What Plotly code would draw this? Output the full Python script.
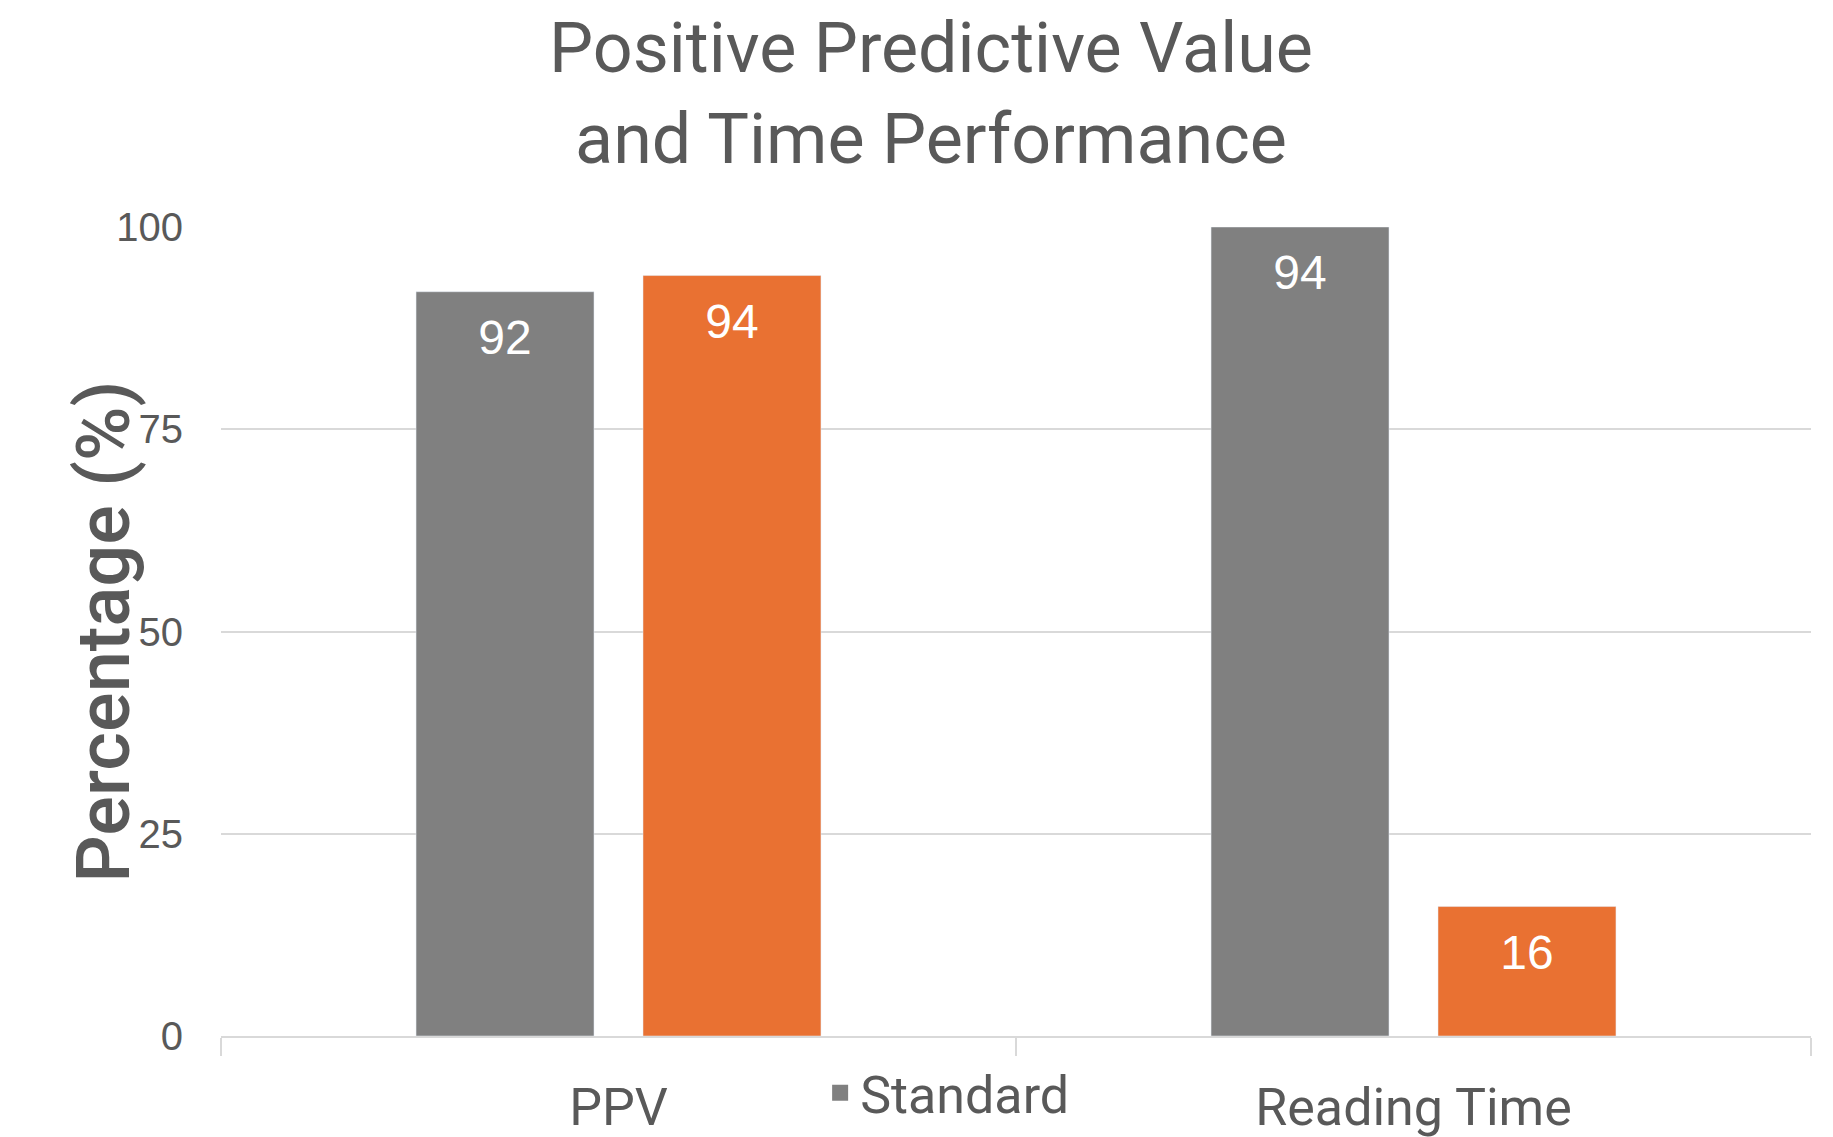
import plotly.graph_objects as go

categories = ["PPV", "Reading Time"]
standard_values = [92, 100]
standard_labels = ["92", "94"]
new_values = [94, 16]
new_labels = ["94", "16"]
y_ticks = [0, 25, 50, 75, 100]

GREY = "#808080"
ORANGE = "#E97132"
TEXT = "#595959"
GRID = "#D9D9D9"

# The page body adds an 8px offset; the figure is sized to fit the window.
W, H = 1825, 1129
BARGAP = 0.429

fig = go.Figure()
fig.add_trace(go.Bar(
    x=categories, y=standard_values, name="Standard", offsetgroup="std",
    marker=dict(color=GREY), showlegend=False, hoverinfo="x+y",
))
fig.add_trace(go.Bar(
    x=categories, y=new_values, name="New", offsetgroup="new",
    marker=dict(color=ORANGE), showlegend=False, hoverinfo="x+y",
))
# data labels, grouped like the bars, sitting just inside the bar tops
for vals, labels, grp in [(standard_values, standard_labels, "std"),
                          (new_values, new_labels, "new")]:
    fig.add_trace(go.Scatter(
        x=categories, y=vals, text=labels, mode="markers+text",
        offsetgroup=grp, textposition="bottom center",
        marker=dict(size=40, opacity=0),
        textfont=dict(family="Liberation Sans, Arial", size=48, color="white"),
        showlegend=False, hoverinfo="skip", cliponaxis=False,
    ))
# legend entry for the Standard series
fig.add_trace(go.Scatter(
    x=[None], y=[None], mode="markers", name="Standard", offsetgroup="std",
    marker=dict(symbol="square", size=26, color=GREY), showlegend=True,
))

fig.update_layout(
    width=W, height=H,
    margin=dict(l=213, r=22, t=219, b=101),
    paper_bgcolor="white", plot_bgcolor="white",
    barmode="group", bargap=BARGAP, bargroupgap=0.216,
    scattermode="group", scattergap=BARGAP,
    title=dict(
        text="Positive Predictive Value<br>and Time Performance",
        font=dict(family="Roboto", size=70, color=TEXT),
        xref="container", x=923 / W, xanchor="center",
        yref="container", y=0.943, yanchor="middle",
    ),
    legend=dict(
        orientation="h", xref="container", x=0.445, xanchor="left",
        yref="container", y=0.039, yanchor="middle",
        font=dict(family="Roboto", size=52, color=TEXT),
        itemsizing="trace", bgcolor="rgba(0,0,0,0)",
    ),
    xaxis=dict(
        showline=True, linecolor=GRID, linewidth=2, automargin=False,
        ticks="outside", tickson="boundaries", ticklen=18, tickwidth=2, tickcolor=GRID,
        tickfont=dict(family="Roboto", size=52, color=TEXT),
        ticklabelstandoff=25, showgrid=False,
    ),
    yaxis=dict(
        range=[0, 100], tickvals=y_ticks, showgrid=True, gridcolor=GRID, gridwidth=2,
        zeroline=False, showline=False, automargin=False,
        tickfont=dict(family="Liberation Sans, Arial", size=40, color=TEXT),
        ticklabelstandoff=37,
    ),
    annotations=[dict(
        text="Percentage (%)", textangle=-90, showarrow=False,
        xref="paper", yref="paper", x=(103 - 221) / 1590, y=0.5,
        xanchor="center", yanchor="middle",
        font=dict(family="Roboto", size=74, color=TEXT, weight=500),
    )],
)

fig.write_html("out.html")
